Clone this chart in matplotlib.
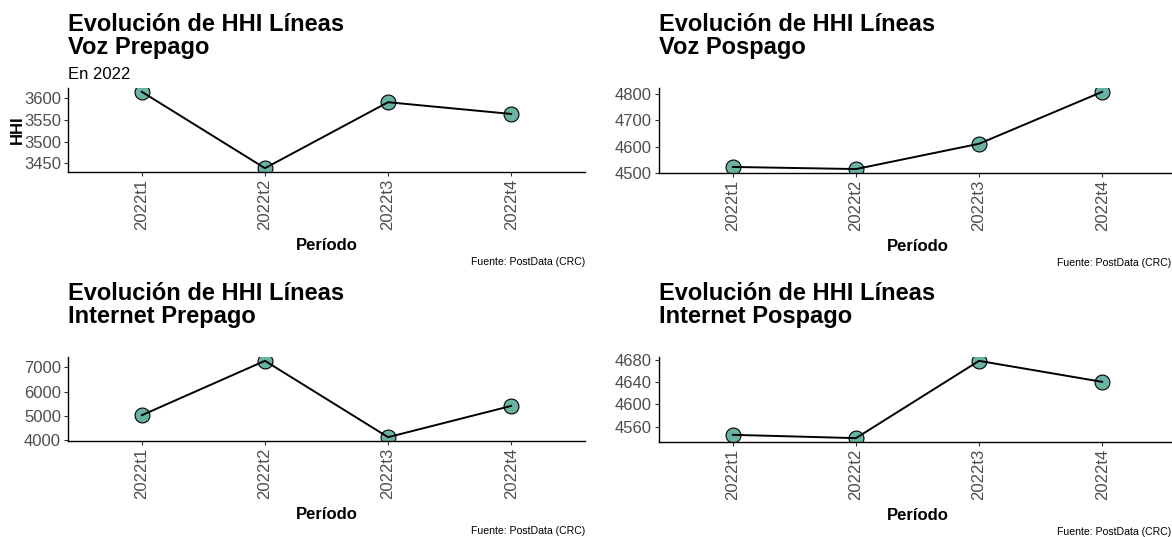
import numpy as np
import matplotlib.pyplot as plt

plt.rcParams['font.family'] = ['Liberation Sans', 'DejaVu Sans']

periodos = ['2022t1', '2022t2', '2022t3', '2022t4']
voz_prepago = [3615, 3439, 3591, 3564]
voz_pospago = [4523, 4515, 4611, 4808]
internet_prepago = [5027, 7270, 4120, 5409]
internet_pospago = [4545, 4539, 4679, 4641]

yticks_voz_pre = [3450, 3500, 3550, 3600]
yticks_voz_pos = [4500, 4600, 4700, 4800]
yticks_int_pre = [4000, 5000, 6000, 7000]
yticks_int_pos = [4560, 4600, 4640, 4680]

W, H = 1172, 537
fig = plt.figure(figsize=(W / 100, H / 100), dpi=100)
fig.patch.set_facecolor('white')


def px_axes(x0, y0, x1, y1):
    # pixel box (top-left origin) -> figure fraction
    return fig.add_axes([x0 / W, 1 - y1 / H, (x1 - x0) / W, (y1 - y0) / H])


def fx(x):
    return x / W


def fy(y):
    return 1 - y / H


def panel(box, valores, yticks, titulo2, subtitulo=None, ylabel=None):
    x0, y0, x1, y1 = box
    ax = px_axes(x0, y0, x1, y1)
    xs = np.arange(1, len(periodos) + 1)
    ax.scatter(xs, valores, s=115, c='#69b3a2', edgecolors='black',
               linewidths=0.8, zorder=2)
    ax.plot(xs, valores, color='black', lw=1.4, zorder=3)
    ax.set_xlim(0.4, len(periodos) + 0.6)
    lo, hi = min(valores), max(valores)
    pad = (hi - lo) * 0.05
    ax.set_ylim(lo - pad, hi + pad)
    ax.set_xticks(xs)
    ax.set_xticklabels(periodos, rotation=90, fontsize=12, color='#4D4D4D')
    ax.set_yticks(yticks)
    ax.set_yticklabels([str(v) for v in yticks], fontsize=12, color='#4D4D4D')
    ax.tick_params(length=3, width=0.8, color='#333333', pad=2)
    for s in ['top', 'right']:
        ax.spines[s].set_visible(False)
    for s in ['left', 'bottom']:
        ax.spines[s].set_linewidth(1.0)
        ax.spines[s].set_color('black')
    cx = (x0 + x1) / 2
    fig.text(fx(cx), fy(y1 + 78), 'Período', fontsize=12, fontweight='bold',
             ha='center', va='baseline')
    fig.text(fx(x0), fy(y0 - 57), 'Evolución de HHI Líneas', fontsize=17,
             fontweight='bold', ha='left', va='baseline')
    fig.text(fx(x0), fy(y0 - 34), titulo2, fontsize=17,
             fontweight='bold', ha='left', va='baseline')
    if subtitulo:
        fig.text(fx(x0), fy(y0 - 9), subtitulo, fontsize=12,
                 ha='left', va='baseline')
    if ylabel:
        fig.text(fx(17), fy((y0 + y1) / 2), ylabel, fontsize=12,
                 fontweight='bold', rotation=90, ha='center', va='center')
    fig.text(fx(min(x1, W - 1)), fy(y1 + 93), 'Fuente: PostData (CRC)',
             fontsize=7.6, ha='right', va='baseline')
    return ax


panel((68, 88, 585, 172), voz_prepago, yticks_voz_pre, 'Voz Prepago',
      subtitulo='En 2022', ylabel='HHI')
panel((659, 88, 1176, 173), voz_pospago, yticks_voz_pos, 'Voz Pospago')
panel((68, 357, 585, 441), internet_prepago, yticks_int_pre, 'Internet Prepago')
panel((659, 357, 1176, 442), internet_pospago, yticks_int_pos, 'Internet Pospago')

fig.savefig('out.png', dpi=100)
